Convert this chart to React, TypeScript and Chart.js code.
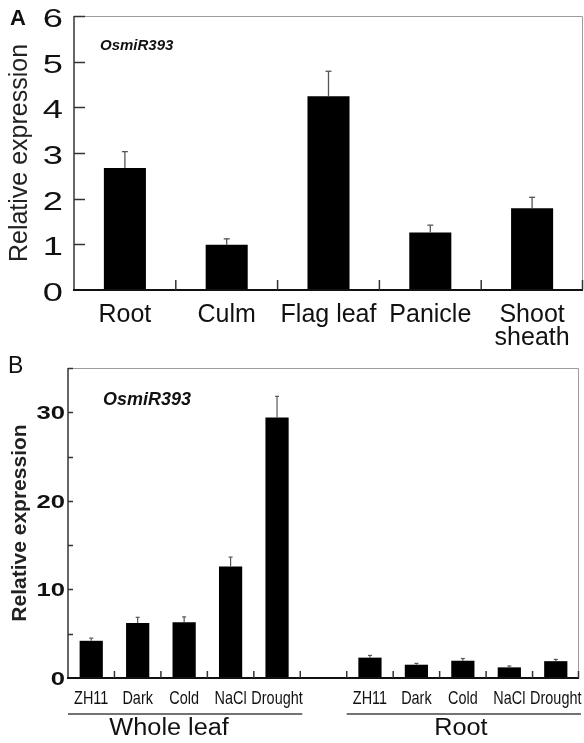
import React, { useEffect, useRef } from 'react';
import { Chart, registerables } from 'chart.js';

Chart.register(...registerables);

const SANS = '"Liberation Sans", Arial, Helvetica, sans-serif';

// ---------- Panel A: tissues ----------
const tissueCategories: (string | string[])[] = ['Root', 'Culm', 'Flag leaf', 'Panicle', ['Shoot', 'sheath']];
const tissueExpression = [2.67, 0.99, 4.24, 1.26, 1.79];
const tissueError = [0.36, 0.13, 0.55, 0.16, 0.24];
const tissueYMax = 6;
const tissueYStep = 1;

// ---------- Panel B: treatments ----------
const treatmentCategories = ['ZH11', 'Dark', 'Cold', 'NaCl', 'Drought', '', 'ZH11', 'Dark', 'Cold', 'NaCl', 'Drought'];
const treatmentExpression = [4.2, 6.2, 6.3, 12.6, 29.4, null, 2.3, 1.5, 1.95, 1.2, 1.9];
const treatmentError = [0.3, 0.65, 0.6, 1.05, 2.4, null, 0.25, 0.15, 0.25, 0.15, 0.2];
const treatmentYMax = 35;
const treatmentYStep = 5;
const treatmentYLabelStep = 10;
const groupNames = ['Whole leaf', 'Root'];
const groupSpans = [[0, 4], [6, 10]];

const geneName = 'OsmiR393';
const yTitle = 'Relative expression';

type TextStyle = { font: string; sx: number };

type DecorOpts = {
  values: (number | null)[];
  errors: (number | null)[];
  labelStep: number;
  cap: number;
  errWidth: number;
  yTick: number;
  xTick: number;
  yLabel: TextStyle & { pad: number; dy: number };
  xLabel?: TextStyle & { dy: number };
  letter: string;
  letterFont: string;
  letterX: number;
  letterY: number;
  geneFont: string;
  geneDX: number;
  geneDY: number;
  groups?: { names: string[]; spans: number[][]; lineDY: number; textDY: number; textDX: number[] } & TextStyle;
};

function makeDecor(p: DecorOpts) {
  return {
    id: 'decor',
    afterDraw(chart: any) {
      const { ctx, chartArea: ca } = chart;
      const x = chart.scales.x;
      const y = chart.scales.y;
      const meta = chart.getDatasetMeta(0);
      const seg = (x1: number, y1: number, x2: number, y2: number) => {
        ctx.beginPath();
        ctx.moveTo(x1, y1);
        ctx.lineTo(x2, y2);
        ctx.stroke();
      };
      const text = (t: string, tx: number, ty: number, st: TextStyle, align: string) => {
        ctx.save();
        ctx.translate(tx, ty);
        ctx.scale(st.sx, 1);
        ctx.font = st.font;
        ctx.textAlign = align;
        ctx.textBaseline = 'middle';
        ctx.fillText(t, 0, 0);
        ctx.restore();
      };
      ctx.save();
      // error bars (upper only)
      ctx.strokeStyle = '#555';
      ctx.lineWidth = p.errWidth;
      p.values.forEach((v, i) => {
        const e = p.errors[i];
        if (v == null || e == null) return;
        const bx = meta.data[i].x;
        const y1 = y.getPixelForValue(v);
        const y2 = y.getPixelForValue(v + e);
        seg(bx, y1, bx, y2);
        seg(bx - p.cap, y2, bx + p.cap, y2);
      });
      // top & right frame
      ctx.strokeStyle = '#9c9c9c';
      ctx.lineWidth = 1;
      ctx.beginPath();
      ctx.moveTo(ca.left, ca.top + 0.5);
      ctx.lineTo(ca.right - 0.5, ca.top + 0.5);
      ctx.lineTo(ca.right - 0.5, ca.bottom);
      ctx.stroke();
      // left axis
      ctx.strokeStyle = '#333';
      ctx.lineWidth = 1.5;
      seg(ca.left, ca.top, ca.left, ca.bottom);
      // y ticks (inward) and labels
      ctx.fillStyle = '#111';
      y.ticks.forEach((t: any) => {
        const py = Math.round(y.getPixelForValue(t.value)) + 0.5;
        if (t.value !== y.min) seg(ca.left, py, ca.left + p.yTick, py);
        if (Math.abs(t.value % p.labelStep) < 1e-9) {
          text(String(t.value), ca.left - p.yLabel.pad, py + p.yLabel.dy, p.yLabel, 'right');
        }
      });
      // bottom axis
      ctx.strokeStyle = '#111';
      ctx.lineWidth = 2;
      seg(ca.left - 1, ca.bottom, ca.right, ca.bottom);
      // x ticks at category boundaries (inward)
      ctx.strokeStyle = '#333';
      ctx.lineWidth = 1.5;
      const labels = chart.data.labels;
      const n = labels.length;
      for (let i = 1; i < n; i++) {
        const px = (x.getPixelForValue(i - 1) + x.getPixelForValue(i)) / 2;
        seg(px, ca.bottom, px, ca.bottom - p.xTick);
      }
      seg(ca.right - 0.5, ca.bottom, ca.right - 0.5, ca.bottom - p.xTick);
      // condensed x labels
      if (p.xLabel) {
        labels.forEach((l: string, i: number) => {
          if (!l) return;
          text(l, x.getPixelForValue(i), ca.bottom + p.xLabel!.dy, p.xLabel!, 'center');
        });
      }
      // panel letter
      ctx.fillStyle = '#111';
      ctx.textBaseline = 'middle';
      ctx.textAlign = 'left';
      ctx.font = p.letterFont;
      ctx.fillText(p.letter, p.letterX, p.letterY);
      // gene name
      ctx.font = p.geneFont;
      ctx.fillText(geneName, ca.left + p.geneDX, ca.top + p.geneDY);
      // groups
      if (p.groups) {
        const g = p.groups;
        const half = (x.getPixelForValue(1) - x.getPixelForValue(0)) / 2;
        ctx.strokeStyle = '#444';
        ctx.lineWidth = 1.5;
        g.spans.forEach(([s, e], gi) => {
          const x1 = x.getPixelForValue(s) - half;
          const x2 = x.getPixelForValue(e) + half + 2;
          seg(x1, ca.bottom + g.lineDY, x2, ca.bottom + g.lineDY);
          text(g.names[gi], (x1 + x2) / 2 + g.textDX[gi], ca.bottom + g.textDY, g, 'center');
        });
      }
      ctx.restore();
    },
  };
}

function buildConfig(o: {
  labels: any[];
  values: (number | null)[];
  barPct: number;
  yMax: number;
  yStep: number;
  yWidth: number;
  xHeight: number;
  padding: any;
  showXTicks: boolean;
  xTickFont: any;
  xTickPad: number;
  titleFont: any;
  titlePad: number;
  decor: any;
}) {
  return {
    type: 'bar' as const,
    data: {
      labels: o.labels,
      datasets: [
        {
          data: o.values,
          backgroundColor: '#000',
          borderWidth: 0,
          barPercentage: o.barPct,
          categoryPercentage: 1,
        },
      ],
    },
    options: {
      responsive: false,
      animation: false as const,
      devicePixelRatio: 1,
      layout: { padding: o.padding },
      plugins: { legend: { display: false }, tooltip: { enabled: false }, title: { display: false } },
      scales: {
        x: {
          grid: { display: false, drawTicks: false },
          border: { display: false },
          ticks: {
            display: o.showXTicks,
            autoSkip: false,
            maxRotation: 0,
            minRotation: 0,
            color: '#111',
            font: o.xTickFont,
            padding: o.xTickPad,
          },
          afterFit: (s: any) => {
            s.height = o.xHeight;
          },
        },
        y: {
          min: 0,
          max: o.yMax,
          grid: { display: false, drawTicks: false },
          border: { display: false },
          ticks: { display: false, stepSize: o.yStep },
          title: {
            display: true,
            text: yTitle,
            color: '#222',
            font: o.titleFont,
            padding: { top: o.titlePad, bottom: 0 },
          },
          afterFit: (s: any) => {
            s.width = o.yWidth;
          },
        },
      },
    },
    plugins: [o.decor],
  };
}

function Panel(props: { top: number; height: number; config: any }) {
  const ref = useRef<HTMLCanvasElement | null>(null);
  useEffect(() => {
    if (!ref.current) return;
    const chart = new Chart(ref.current, props.config);
    return () => chart.destroy();
  }, []);
  return (
    <canvas
      ref={ref}
      width={584}
      height={props.height}
      style={{ position: 'absolute', left: 0, top: props.top, width: 584, height: props.height }}
    />
  );
}

export default function App() {
  const configA = buildConfig({
    labels: tissueCategories,
    values: tissueExpression,
    barPct: 0.413,
    yMax: tissueYMax,
    yStep: tissueYStep,
    yWidth: 74,
    xHeight: 62,
    padding: { top: 16, right: 1, left: 0, bottom: 0 },
    showXTicks: true,
    xTickFont: { family: SANS, size: 25, lineHeight: 0.9 },
    xTickPad: 14,
    titleFont: { family: SANS, size: 25 },
    titlePad: 5,
    decor: makeDecor({
      values: tissueExpression,
      errors: tissueError,
      labelStep: tissueYStep,
      cap: 3,
      errWidth: 1.3,
      yTick: 11,
      xTick: 10,
      yLabel: { font: `25px ${SANS}`, sx: 1.45, pad: 11, dy: 4 },
      letter: 'A',
      letterFont: `600 22px ${SANS}`,
      letterX: 10,
      letterY: 19,
      geneFont: `italic bold 15px ${SANS}`,
      geneDX: 26,
      geneDY: 30,
    }),
  });

  const configB = buildConfig({
    labels: treatmentCategories,
    values: treatmentExpression,
    barPct: 0.5,
    yMax: treatmentYMax,
    yStep: treatmentYStep,
    yWidth: 68,
    xHeight: 65,
    padding: { top: 28, right: 5, left: 0, bottom: 0 },
    showXTicks: false,
    xTickFont: { family: SANS, size: 19 },
    xTickPad: 8,
    titleFont: { family: SANS, size: 21, weight: 'bold' },
    titlePad: 8,
    decor: makeDecor({
      values: treatmentExpression,
      errors: treatmentError,
      labelStep: treatmentYLabelStep,
      cap: 2,
      errWidth: 1.2,
      yTick: 5,
      xTick: 7,
      yLabel: { font: `bold 19px ${SANS}`, sx: 1.35, pad: 3, dy: 1 },
      xLabel: { font: `19px ${SANS}`, sx: 0.76, dy: 21 },
      letter: 'B',
      letterFont: `500 23px ${SANS}`,
      letterX: 8,
      letterY: 27,
      geneFont: `italic bold 18px ${SANS}`,
      geneDX: 35,
      geneDY: 32,
      groups: {
        names: groupNames,
        spans: groupSpans,
        lineDY: 36,
        textDY: 51,
        textDX: [-16, -3],
        font: `500 23px ${SANS}`,
        sx: 1.1,
      },
    }),
  });

  return (
    <div style={{ position: 'absolute', left: 0, top: 0, width: 584, height: 743, background: '#fff' }}>
      <Panel top={0} height={352} config={configA} />
      <Panel top={340} height={403} config={configB} />
    </div>
  );
}
